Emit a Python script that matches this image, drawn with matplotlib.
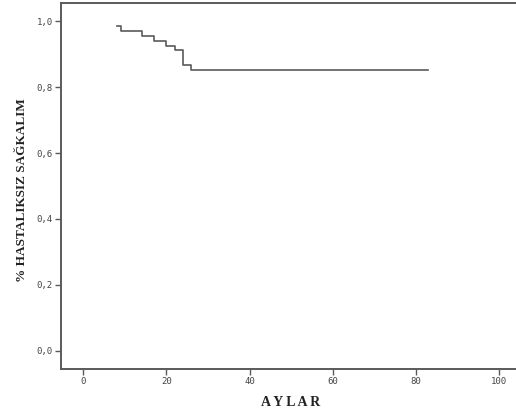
"""Kaplan-Meier style disease-free survival curve (SPSS look)."""
import matplotlib
matplotlib.use("Agg")
import matplotlib.pyplot as plt
from matplotlib.transforms import blended_transform_factory

## values
months = [8, 9, 14, 17, 20, 22, 24, 26, 83]
survival = [0.985, 0.971, 0.956, 0.941, 0.926, 0.912, 0.868, 0.853, 0.853]
x_ticks = [0, 20, 40, 60, 80, 100]
y_ticks = [0.0, 0.2, 0.4, 0.6, 0.8, 1.0]
y_tick_labels = ["0,0", "0,2", "0,4", "0,6", "0,8", "1,0"]

GREY = "#5a5a5a"

fig = plt.figure(figsize=(5.16, 4.12), dpi=100)
# axes runs past the right edge, like the cropped SPSS output
ax = fig.add_axes([61 / 516, 1 - 369 / 412, 500 / 516, 366 / 412])

ax.plot(months, survival, drawstyle="steps-post", color=GREY, linewidth=1.2)

ax.set_xlim(-5.4, 115)
ax.set_ylim(-0.055, 1.055)
ax.set_xticks(x_ticks)
ax.set_xticklabels([str(t) for t in x_ticks])
ax.set_yticks(y_ticks)
ax.set_yticklabels(y_tick_labels)

for side in ["left", "bottom", "top"]:
    ax.spines[side].set_color(GREY)
    ax.spines[side].set_linewidth(1.4)
ax.spines["right"].set_visible(False)

ax.tick_params(direction="out", length=4, width=1, color=GREY,
               labelsize=6.5, labelcolor="#444444", pad=2)
for lab in ax.get_xticklabels() + ax.get_yticklabels():
    lab.set_family("DejaVu Sans Mono")

trans = blended_transform_factory(ax.transData, fig.transFigure)
ax.text(50, 1 - 402 / 412, "A Y L A R", transform=trans, ha="center", va="center",
        family="Liberation Serif", fontweight="bold", fontsize=10, color="#222222")
fig.text(22 / 516, 1 - 190 / 412, "% HASTALIKSIZ SAĞKALIM", rotation=90,
         ha="center", va="center", family="Liberation Serif", fontweight="bold",
         fontsize=9.5, color="#222222")

fig.savefig("out.png", dpi=100)
